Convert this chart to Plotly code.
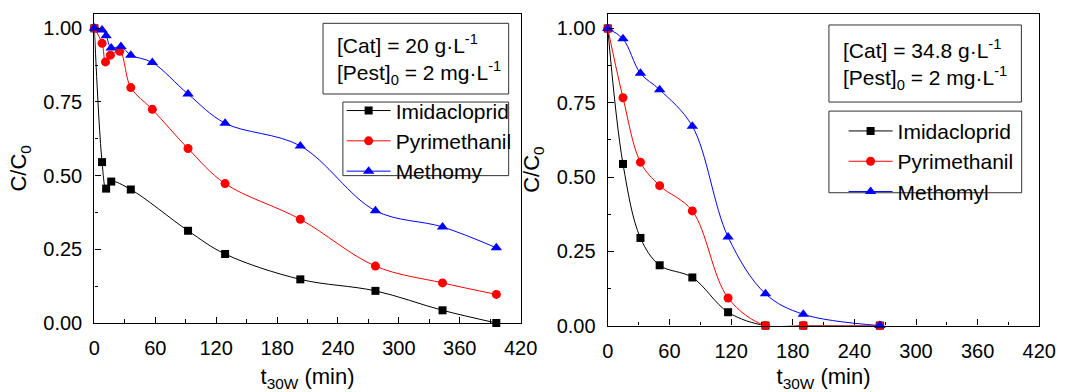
import plotly.graph_objects as go

# ---- data: [Cat] = 20 g/L ----
t_imi_a = [0, 7.6, 11.6, 16.6, 35.9, 92.3, 128.8, 202.9, 276.9, 343.0, 396.0]
c_imi_a = [1.00, 0.546, 0.456, 0.480, 0.453, 0.313, 0.234, 0.148, 0.109, 0.043, 0.000]

t_pyr_a = [0, 7.6, 11.0, 15.8, 25.0, 35.9, 57.1, 92.3, 128.8, 202.9, 276.9, 343.0, 396.0]
c_pyr_a = [1.00, 0.949, 0.886, 0.909, 0.922, 0.799, 0.725, 0.592, 0.473, 0.352, 0.193, 0.136, 0.097]

t_met_a = [0, 7.6, 11.6, 16.6, 26.2, 35.9, 57.1, 92.3, 128.8, 202.9, 276.9, 343.0, 396.0]
c_met_a = [1.00, 0.994, 0.975, 0.933, 0.938, 0.909, 0.884, 0.777, 0.678, 0.601, 0.381, 0.326, 0.255]

# ---- data: [Cat] = 34.8 g/L ----
t_b = [0, 14.8, 31.8, 50.5, 82.3, 117.1, 153.5, 190.3, 264.8]
c_imi_b = [1.00, 0.544, 0.295, 0.203, 0.162, 0.045, 0.000, 0.000, 0.000]
c_pyr_b = [1.00, 0.767, 0.550, 0.471, 0.386, 0.093, 0.000, 0.000, 0.000]
c_met_b = [1.00, 0.965, 0.849, 0.794, 0.671, 0.298, 0.107, 0.038, 0.000]

names_a = ["Imidacloprid", "Pyrimethanil", "Methomy"]
names_b = ["Imidacloprid", "Pyrimethanil", "Methomyl"]
colors = ["#000000", "#FF0000", "#0000FF"]
symbols = ["square", "circle", "triangle-up"]
msizes = [8, 9, 10]

x_ticks = [0, 60, 120, 180, 240, 300, 360, 420]
y_ticks = [0.00, 0.25, 0.50, 0.75, 1.00]

W, H = 1070, 392
FONT = "Arial, Liberation Sans, sans-serif"


def px_x(p):
    return p / W


def px_y(p):
    return 1 - p / H


fig = go.Figure()

series_a = [(t_imi_a, c_imi_a), (t_pyr_a, c_pyr_a), (t_met_a, c_met_a)]
series_b = [(t_b, c_imi_b), (t_b, c_pyr_b), (t_b, c_met_b)]

for i, (t, c) in enumerate(series_a):
    fig.add_trace(go.Scatter(
        x=t, y=c, name=names_a[i], mode="lines+markers",
        line=dict(color=colors[i], width=1, shape="spline", smoothing=1.0),
        marker=dict(symbol=symbols[i], size=msizes[i], color=colors[i], line=dict(width=0)),
        cliponaxis=False, xaxis="x", yaxis="y", legend="legend",
    ))

for i, (t, c) in enumerate(series_b):
    fig.add_trace(go.Scatter(
        x=t, y=c, name=names_b[i], mode="lines+markers",
        line=dict(color=colors[i], width=1, shape="spline", smoothing=1.0),
        marker=dict(symbol=symbols[i], size=msizes[i], color=colors[i], line=dict(width=0)),
        cliponaxis=False, xaxis="x2", yaxis="y2", legend="legend2",
    ))

axis_common = dict(
    showline=True, linecolor="black", linewidth=1.3, mirror=True,
    ticks="inside", ticklen=6, tickwidth=1.3, tickcolor="black",
    showgrid=False, zeroline=False,
    tickfont=dict(size=20, family=FONT, color="black"),
)
x_common = dict(axis_common, range=[0, 420], tickvals=x_ticks,
                minor=dict(dtick=30, tick0=0, ticks="inside", ticklen=3.5, tickwidth=1.3,
                           tickcolor="black", showgrid=False),
                ticklabelstandoff=7,
                title=dict(text="t<sub>30W</sub> (min)", font=dict(size=22, family=FONT, color="black"),
                           standoff=11))
y_common = dict(axis_common, range=[0, 1.05], tickvals=y_ticks, tickformat=".2f",
                minor=dict(dtick=0.125, tick0=0, ticks="inside", ticklen=3.5, tickwidth=1.3,
                           tickcolor="black", showgrid=False),
                ticklabelstandoff=7,
                title=dict(text="C/C<sub>0</sub>", font=dict(size=22, family=FONT, color="black"),
                           standoff=10))

fig.update_layout(
    width=W, height=H,
    margin=dict(l=0, r=0, t=0, b=0),
    paper_bgcolor="white", plot_bgcolor="white",
    font=dict(family=FONT, color="black"),
    xaxis=dict(x_common, domain=[px_x(90.3), px_x(526)], anchor="y"),
    yaxis=dict(y_common, domain=[px_y(332.3), px_y(14)], anchor="x"),
    xaxis2=dict(x_common, domain=[px_x(615), px_x(1056)], anchor="y2"),
    yaxis2=dict(y_common, domain=[px_y(335), px_y(14)], anchor="x2"),
    legend=dict(x=px_x(343), y=px_y(93), xanchor="left", yanchor="top",
                bgcolor="rgba(0,0,0,0)", borderwidth=0,
                font=dict(size=21, family=FONT, color="black"),
                itemwidth=44, tracegroupgap=0),
    legend2=dict(x=px_x(856), y=px_y(114), xanchor="left", yanchor="top",
                 bgcolor="rgba(0,0,0,0)", borderwidth=0,
                 font=dict(size=21, family=FONT, color="black"),
                 itemwidth=44, tracegroupgap=0),
)

# framed boxes for the condition labels and the legends
boxes = [
    (324, 24, 513.7, 96.7),
    (344.3, 105, 513.7, 180.7),
    (841, 25.7, 1037.7, 105),
    (841, 114.3, 1038, 198.3),
]
for x0, y0, x1, y1 in boxes:
    fig.add_shape(type="rect", xref="paper", yref="paper",
                  x0=px_x(x0), x1=px_x(x1), y0=px_y(y1), y1=px_y(y0),
                  line=dict(color="#333333", width=1), fillcolor="white", layer="below")

cond_a = "[Cat] = 20 g·L<sup>-1</sup><br>[Pest]<sub>0</sub> = 2 mg·L<sup>-1</sup>"
cond_b = "[Cat] = 34.8 g·L<sup>-1</sup><br>[Pest]<sub>0</sub> = 2 mg·L<sup>-1</sup>"
fig.add_annotation(text=cond_a, xref="paper", yref="paper", x=px_x(336), y=px_y(61),
                   xanchor="left", yanchor="middle", align="left", showarrow=False,
                   font=dict(size=21, family=FONT, color="black"))
fig.add_annotation(text=cond_b, xref="paper", yref="paper", x=px_x(853), y=px_y(66),
                   xanchor="left", yanchor="middle", align="left", showarrow=False,
                   font=dict(size=21, family=FONT, color="black"))

fig.write_html("out.html")
